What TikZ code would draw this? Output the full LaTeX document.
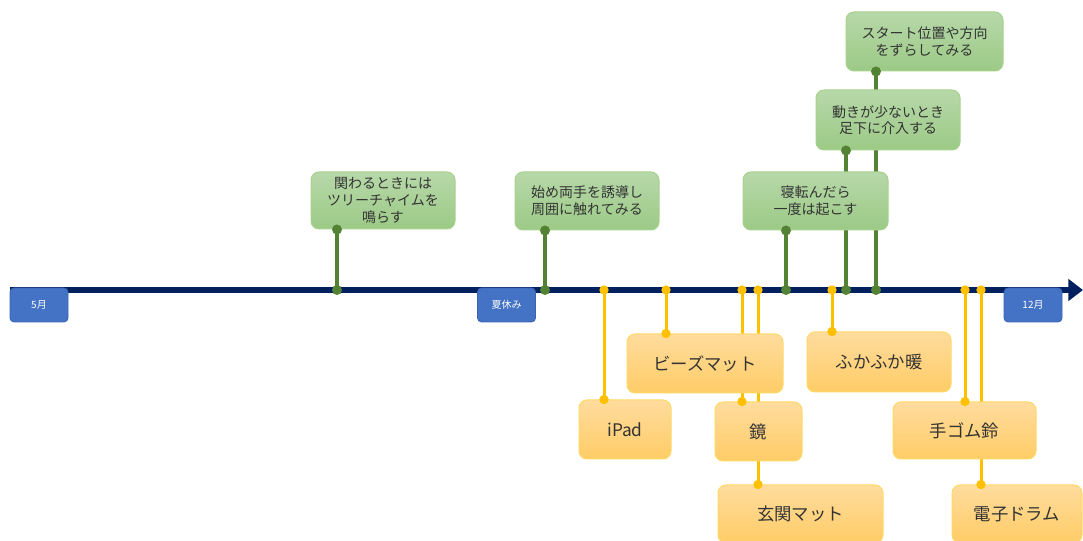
\documentclass[tikz,border=0pt]{standalone}
\usepackage{fontspec}
\setmainfont{Noto Sans CJK JP}
\usetikzlibrary{arrows.meta}
\definecolor{navy}{HTML}{002060}
\definecolor{gstemc}{HTML}{548235}
\definecolor{gtop}{HTML}{B7D8A9}
\definecolor{gbot}{HTML}{9CCA86}
\definecolor{gborder}{HTML}{A9D18E}
\definecolor{ostemc}{HTML}{FFC000}
\definecolor{otop}{HTML}{FFDC9E}
\definecolor{obot}{HTML}{FFCC66}
\definecolor{oborder}{HTML}{FFD966}
\definecolor{mfill}{HTML}{4472C4}
\definecolor{mborder}{HTML}{3A64B0}
\definecolor{txt}{HTML}{333333}
\pgfdeclarelayer{bg}
\pgfdeclarelayer{fg}
\pgfsetlayers{bg,main,fg}
\begin{document}
\begin{tikzpicture}[x=0.75pt,y=-0.75pt,
  gbox/.style={draw=gborder, line width=0.75pt, rounded corners=6pt, top color=gtop, bottom color=gbot, align=center, text=txt, inner sep=0pt, font=\fontsize{10.5pt}{12.5pt}\selectfont},
  obox/.style={draw=oborder, line width=0.75pt, rounded corners=6pt, top color=otop, bottom color=obot, align=center, text=txt, inner sep=0pt, font=\fontsize{13pt}{15pt}\selectfont},
  mbox/.style={draw=mborder, line width=0.6pt, fill=mfill, rounded corners=3pt, text=white, inner sep=0pt, minimum width=43.5pt, minimum height=25.5pt, font=\fontsize{7.5pt}{9pt}\selectfont},
  gstem/.style={draw=gstemc, line width=3pt},
  ostem/.style={draw=ostemc, line width=2.25pt},
  gdot/.style={fill=gstemc, circle, inner sep=0pt, minimum size=7.5pt},
  odot/.style={fill=ostemc, circle, inner sep=0pt, minimum size=7pt},
]
\useasboundingbox (0,0) rectangle (1083,541);

% timeline points
\coordinate (tlS) at (10,290);
\coordinate (tlE) at (1083,290);
\coordinate (p1) at (337,290);
\coordinate (p2) at (545,290);
\coordinate (p3) at (786,290);
\coordinate (p4) at (846,290);
\coordinate (p5) at (876,290);
\coordinate (q1) at (604,290);
\coordinate (q2) at (666,290);
\coordinate (q3) at (742,290);
\coordinate (q4) at (758,290);
\coordinate (q5) at (832,290);
\coordinate (q6) at (965,290);
\coordinate (q7) at (981,290);

% green boxes
\node[gbox, minimum width=108pt, minimum height=42.75pt] (g1) at (383,200.5) {関わるときには\\ツリーチャイムを\\鳴らす};
\node[gbox, minimum width=108pt, minimum height=43.5pt] (g2) at (587,201) {始め両手を誘導し\\周囲に触れてみる};
\node[gbox, minimum width=108.75pt, minimum height=43.5pt] (g3) at (815.5,201) {寝転んだら\\一度は起こす};
\node[gbox, minimum width=108pt, minimum height=45pt] (g4) at (888,120) {動きが少ないとき\\足下に介入する};
\node[gbox, minimum width=117.75pt, minimum height=44.25pt] (g5) at (924.5,41.5) {スタート位置や方向\\をずらしてみる};

% orange boxes
\node[obox, minimum width=117pt, minimum height=44.25pt] (o2) at (705,363.5) {ビーズマット};
\node[obox, minimum width=69pt, minimum height=44.25pt] (o1) at (625,429.5) {iPad};
\node[obox, minimum width=65.25pt, minimum height=44.25pt] (o3) at (758.5,431.5) {鏡};
\node[obox, minimum width=123.75pt, minimum height=43.5pt] (o4) at (800.5,514) {玄関マット};
\node[obox, minimum width=108pt, minimum height=45pt] (o5) at (879,362) {ふかふか暖};
\node[obox, minimum width=107.25pt, minimum height=42.75pt] (o6) at (964.5,430.5) {手ゴム鈴};
\node[obox, minimum width=97.5pt, minimum height=43.5pt] (o7) at (1017,514) {電子ドラム};

% month boxes
\node[mbox] (m1) at (39,305) {5月};
\node[mbox] (m2) at (506.5,305) {夏休み};
\node[mbox] (m3) at (1033,305) {12月};

\begin{pgfonlayer}{bg}
  \draw[navy, line width=4.5pt, -{Triangle[length=11pt,width=16pt]}] (tlS) -- (tlE);
  \draw[gstem] (p1) -- (p1 |- g1.south);
  \draw[gstem] (p2) -- (p2 |- g2.south);
  \draw[gstem] (p3) -- (p3 |- g3.south);
  \draw[gstem] (p4) -- (p4 |- g4.south);
  \draw[gstem] (p5) -- (p5 |- g5.south);
  \draw[ostem] (q1) -- (q1 |- o1.north);
  \draw[ostem] (q2) -- (q2 |- o2.north);
  \draw[ostem] (q3) -- (q3 |- o3.north);
  \draw[ostem] (q4) -- (q4 |- o4.north);
  \draw[ostem] (q5) -- (q5 |- o5.north);
  \draw[ostem] (q6) -- (q6 |- o6.north);
  \draw[ostem] (q7) -- (q7 |- o7.north);
\end{pgfonlayer}

\begin{pgfonlayer}{fg}
  \foreach \p/\b in {p1/g1,p2/g2,p3/g3,p4/g4,p5/g5}{
    \node[gdot] at (\p) {};
    \node[gdot] at (\p |- \b.south) {};
  }
  \foreach \p/\b in {q1/o1,q2/o2,q3/o3,q4/o4,q5/o5,q6/o6,q7/o7}{
    \node[odot] at (\p) {};
    \node[odot] at (\p |- \b.north) {};
  }
\end{pgfonlayer}
\end{tikzpicture}
\end{document}
